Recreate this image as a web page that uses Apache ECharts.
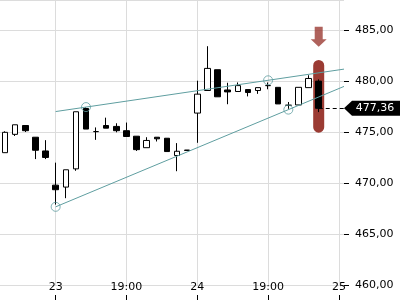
<!DOCTYPE html>
<html>
<head>
<meta charset="utf-8">
<script src="https://cdn.jsdelivr.net/npm/echarts@6.0.0/dist/echarts.min.js"></script>
<style>
html,body{margin:0;padding:0;background:#fff;}
#main{width:400px;height:300px;}
</style>
</head>
<body>
<div id="main"></div>
<script>
// 横轴标签 (每根K线一个位置, 最后两个为空位)
var timeLabels = ['', '', '', '', '', '23', '', '', '', '', '', '', '19:00', '', '', '', '', '', '', '24',
                  '', '', '', '', '', '', '19:00', '', '', '', '', '', '', '25'];

var openList  = [473.00, 474.80, 475.67, 474.52, 473.17, 469.81, 469.62, 471.41, 477.34, 475.07,
                 475.67, 475.58, 475.16, 474.62, 473.49, 474.52, 474.42, 472.72, 473.26, 476.89,
                 479.11, 481.15, 479.16, 479.01, 479.20, 479.11, 479.59, 479.42, 477.66, 477.69,
                 479.39, 480.03];
var closeList = [475.00, 475.74, 475.16, 473.24, 472.53, 469.36, 471.32, 477.02, 475.32, 475.07,
                 475.41, 475.16, 474.59, 473.30, 474.20, 474.36, 473.11, 473.14, 473.22, 478.75,
                 481.28, 478.49, 478.97, 479.59, 478.91, 479.39, 479.59, 477.79, 477.66, 479.42,
                 480.29, 477.36];
var lowList   = [473.00, 474.64, 475.03, 472.37, 472.37, 467.90, 468.53, 471.22, 475.32, 474.26,
                 475.41, 475.00, 474.59, 473.17, 473.49, 474.10, 473.11, 471.18, 473.22, 473.97,
                 479.11, 478.49, 477.76, 479.01, 478.53, 478.78, 479.23, 477.79, 477.31, 477.69,
                 479.39, 476.99];
var highList  = [475.10, 475.74, 475.67, 474.52, 474.23, 472.02, 471.32, 477.02, 477.45, 475.48,
                 476.44, 475.89, 475.96, 474.62, 474.52, 474.52, 474.42, 473.94, 473.26, 480.07,
                 483.46, 481.15, 479.87, 479.90, 479.20, 479.39, 479.90, 479.42, 477.98, 479.42,
                 480.61, 480.20];

// 趋势线 [index, price]
var upperTrend = [[5, 477.04], [33.5, 481.21]];
var lowerTrend = [[5, 467.68], [33.5, 479.51]];
var touchPoints = [[8, 477.48], [26, 480.11], [5, 467.68], [28, 477.23]];

var lastIndex = 31;
var lastPrice = 477.36;
var highlightRange = [474.97, 482.11];   // 最后一根K线的标记区间
var arrowPrice = 484.4;

var trendColor = '#5f9ea0';
var markColor = '#9b3b33';

function fmt(v){
    return v.toFixed(2).replace('.', ',');
}

function draw(){
    var myChart = echarts.init(document.getElementById('main'));

    var kData = [];
    for(var i = 0; i < openList.length; i++){
        kData.push([openList[i], closeList[i], lowList[i], highList[i]]);
    }
    var axisEnd = timeLabels.length - 0.5;

    var option = {
        animation: false,
        grid: {
            left: 0,
            right: 56,
            top: -5,
            bottom: 15
        },
        xAxis: [
            {
                type: 'category',
                data: timeLabels,
                boundaryGap: true,
                offset: 15,
                axisLine: {show: false, onZero: false},
                axisTick: {
                    show: true,
                    inside: true,
                    length: 5,
                    alignWithLabel: true,
                    interval: function(idx, val){ return val !== ''; },
                    lineStyle: {color: '#000'}
                },
                axisLabel: {
                    inside: true,
                    interval: 0,
                    margin: 7,
                    color: '#000',
                    fontFamily: 'DejaVu Sans',
                    fontSize: 11
                },
                splitLine: {
                    show: true,
                    alignWithLabel: true,
                    interval: function(idx, val){ return val !== ''; },
                    lineStyle: {color: '#dcdcdc'}
                }
            },
            {
                type: 'value',
                show: false,
                min: -0.5,
                max: axisEnd,
                axisLine: {onZero: false},
                splitLine: {show: false}
            }
        ],
        yAxis: {
            type: 'value',
            position: 'right',
            min: 460,
            max: 488,
            interval: 5,
            axisLine: {show: false, onZero: false},
            axisTick: {show: true, length: 5, lineStyle: {color: '#000'}},
            axisLabel: {
                margin: 11,
                color: '#000',
                fontFamily: 'DejaVu Sans',
                fontSize: 11,
                showMaxLabel: false,
                formatter: fmt
            },
            splitLine: {lineStyle: {color: '#dcdcdc'}}
        },
        series: [
            {
                type: 'custom',
                xAxisIndex: 1,
                z: 1,
                data: [[lastIndex, highlightRange[0], highlightRange[1]]],
                encode: {x: 0, y: [1, 2]},
                renderItem: function(params, api){
                    var top = api.coord([api.value(0), api.value(2)]);
                    var bottom = api.coord([api.value(0), api.value(1)]);
                    var w = 11;
                    return {
                        type: 'rect',
                        shape: {x: top[0] - w / 2, y: top[1], width: w, height: bottom[1] - top[1], r: w / 2},
                        style: {fill: markColor}
                    };
                }
            },
            {
                type: 'candlestick',
                z: 2,
                barWidth: 6,
                data: kData,
                itemStyle: {
                    color: '#fff',
                    color0: '#000',
                    borderColor: '#000',
                    borderColor0: '#000',
                    borderWidth: 1
                }
            },
            {
                type: 'line',
                xAxisIndex: 1,
                z: 3,
                showSymbol: false,
                data: upperTrend,
                lineStyle: {color: trendColor, width: 1}
            },
            {
                type: 'line',
                xAxisIndex: 1,
                z: 3,
                showSymbol: false,
                data: lowerTrend,
                lineStyle: {color: trendColor, width: 1}
            },
            {
                type: 'scatter',
                xAxisIndex: 1,
                z: 3,
                symbol: 'circle',
                symbolSize: 9,
                data: touchPoints,
                itemStyle: {color: 'rgba(255,255,255,0)', borderColor: trendColor, borderWidth: 1}
            },
            {
                type: 'scatter',
                xAxisIndex: 1,
                z: 3,
                symbol: 'path://M4,0 L12,0 L12,12.5 L16,12.5 L8,20 L0,12.5 L4,12.5 Z',
                symbolSize: [16, 20],
                data: [[lastIndex, arrowPrice]],
                itemStyle: {color: markColor},
                markLine: {
                    silent: true,
                    symbol: ['none', 'none'],
                    label: {show: false},
                    lineStyle: {color: '#000', type: [4, 3], width: 1},
                    data: [[{coord: [lastIndex, lastPrice]}, {coord: [axisEnd, lastPrice]}]]
                },
                markPoint: {
                    silent: true,
                    symbol: 'path://M0,7.5 L8,0 L56,0 L56,15 L8,15 Z',
                    symbolSize: [56, 15],
                    symbolOffset: [28, 0],
                    itemStyle: {color: '#000'},
                    label: {
                        show: true,
                        position: 'inside',
                        offset: [3, 0],
                        color: '#fff',
                        fontFamily: 'DejaVu Sans',
                        fontSize: 11,
                        formatter: function(){ return fmt(lastPrice); }
                    },
                    data: [{coord: [axisEnd, lastPrice], value: lastPrice}]
                }
            }
        ]
    };

    myChart.setOption(option);
}

draw();
</script>
</body>
</html>
